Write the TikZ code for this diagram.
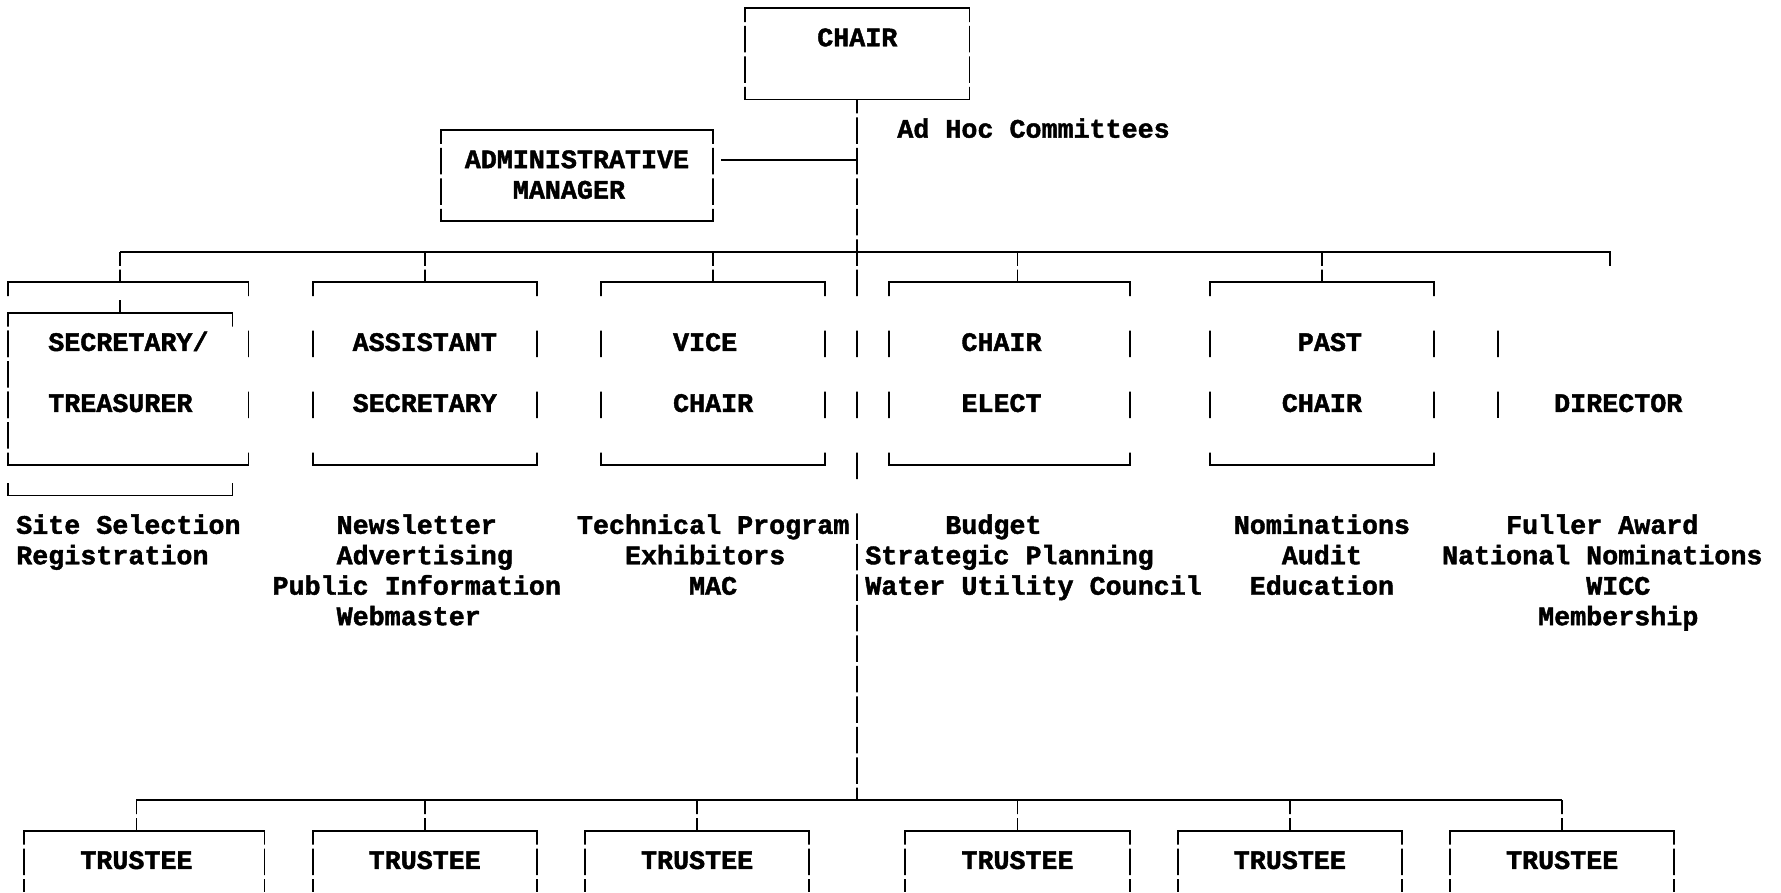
\documentclass[tikz,border=0pt]{standalone}
\usepackage{fontspec}
\setmainfont{Liberation Mono}[BoldFeatures={FakeBold=1.6}]
\newcommand\chartfont{\fontsize{26.7}{30.47}\selectfont\bfseries}
\newcommand\cx[1]{8.24+16.02*(#1)}
\newcommand\lx[1]{0.23+16.02*(#1)}
\newcommand\ry[1]{8+30.47*(#1)}
\newcommand\bandclip[1]{\clip \foreach \r in {#1} {(-20,{\ry{\r}-12.5}) rectangle (1820,{\ry{\r}+14})};}
\newcommand\boxnode[5]{\node[inner sep=0pt, outer sep=0pt, minimum width={16.02*((#3)-(#2))}, minimum height={30.47*((#5)-(#4))}] (#1) at ({\cx{((#2)+(#3))/2}},{\ry{((#4)+(#5))/2}}) {};}
\newcommand\lbltext[4]{\node[lbl] (#1) at ({\lx{#2}},{\ry{#3}+7.8}) {#4};}
\begin{document}
\begin{tikzpicture}[x=1pt,y=-1pt,line width=1.8pt,
  lbl/.style={anchor=base west,inner sep=0pt,outer sep=0pt,font=\chartfont},
  frame/.style={line width=1.8pt,black}]
\useasboundingbox[fill=white] (0,0) rectangle (1781,892);

% ---- box nodes (geometry) ----
\boxnode{chair}{46}{60}{0}{3}
\boxnode{admin}{27}{44}{4}{7}
\boxnode{secout}{0}{15}{9}{15}
\boxnode{secin}{0}{14}{10}{16}
\boxnode{asst}{19}{33}{9}{15}
\boxnode{vice}{37}{51}{9}{15}
\boxnode{elect}{55}{70}{9}{15}
\boxnode{past}{75}{89}{9}{15}
\boxnode{tr1}{1}{16}{27}{29}
\boxnode{tr2}{19}{33}{27}{29}
\boxnode{tr3}{36}{50}{27}{29}
\boxnode{tr4}{56}{70}{27}{29}
\boxnode{tr5}{73}{87}{27}{29}
\boxnode{tr6}{90}{104}{27}{29}

% ---- junction coordinates ----
\coordinate (j5) at ({\cx{53}},{\ry{5}});
\coordinate (a5) at ({\lx{45}},{\ry{5}});
\coordinate (b7) at ({\cx{7}},{\ry{8}});
\coordinate (b26) at ({\cx{26}},{\ry{8}});
\coordinate (b44) at ({\cx{44}},{\ry{8}});
\coordinate (b63) at ({\cx{63}},{\ry{8}});
\coordinate (b82) at ({\cx{82}},{\ry{8}});
\coordinate (b100) at ({\cx{100}},{\ry{8}});
\coordinate (tb8) at ({\cx{8}},{\ry{26}});
\coordinate (tb26) at ({\cx{26}},{\ry{26}});
\coordinate (tb43) at ({\cx{43}},{\ry{26}});
\coordinate (tb63) at ({\cx{63}},{\ry{26}});
\coordinate (tb80) at ({\cx{80}},{\ry{26}});
\coordinate (tb97) at ({\cx{97}},{\ry{26}});
\coordinate (trunkend) at ({\cx{53}},{\ry{26}});
\coordinate (dtop) at ({\cx{93}},{\ry{11}-14});
\coordinate (dbot) at ({\cx{93}},{\ry{13}+14});

% ---- lines shown in every row except 10,12,14,16 ----
\begin{scope}
\bandclip{0,1,2,3,4,5,6,7,8,9,11,13,15,17,18,19,20,21,22,23,24,25,26,27,28,29}
\draw[frame] (chair.north west) rectangle (chair.south east);
\draw[frame] (admin.north west) rectangle (admin.south east);
\draw[frame] (secout.north west) rectangle (secout.south east);
\draw[frame] (asst.north west) rectangle (asst.south east);
\draw[frame] (vice.north west) rectangle (vice.south east);
\draw[frame] (elect.north west) rectangle (elect.south east);
\draw[frame] (past.north west) rectangle (past.south east);
\draw[frame] (chair.south) -- (trunkend);
\draw[frame] (a5) -- (j5);
\draw[frame] (b7) -- (b100) -- ++(0,16);
\draw[frame] (b7) -- (b7 |- secout.north);
\draw[frame] (b26) -- (asst.north);
\draw[frame] (b44) -- (vice.north);
\draw[frame] (b63) -- (b63 |- elect.north);
\draw[frame] (b82) -- (past.north);
\draw[frame] (dtop) -- (dbot);
\draw[frame] (tb8) -- (tb97);
\draw[frame] (tb8) -- (tb8 |- tr1.north);
\draw[frame] (tb26) -- (tr2.north);
\draw[frame] (tb43) -- (tr3.north);
\draw[frame] (tb63) -- (tr4.north);
\draw[frame] (tb80) -- (tr5.north);
\draw[frame] (tb97) -- (tr6.north);
\foreach \t in {tr1,tr2,tr3,tr4,tr5,tr6}
  \draw[frame] (\t.south west) -- (\t.north west) -- (\t.north east) -- (\t.south east);
\end{scope}

% ---- inner secretary frame ----
\begin{scope}
\bandclip{10,11,12,13,14,16}
\draw[frame] (secin.north east) ++(0,15) -- (secin.north east) -- (secin.north west)
  -- (secin.south west) -- (secin.south east) -- ++(0,-14);
\draw[frame] (b7 |- secout.north) -- (b7 |- secin.north);
\end{scope}

% ---- texts ----
\lbltext{chairt}{51}{1}{CHAIR}
\lbltext{adhoc}{56}{4}{Ad Hoc Committees}
\lbltext{admt1}{29}{5}{ADMINISTRATIVE}
\lbltext{admt2}{32}{6}{MANAGER}
\lbltext{sect1}{3}{11}{SECRETARY/}
\lbltext{sect2}{3}{13}{TREASURER}
\lbltext{asst1}{22}{11}{ASSISTANT}
\lbltext{asst2}{22}{13}{SECRETARY}
\lbltext{vice1}{42}{11}{VICE}
\lbltext{vice2}{42}{13}{CHAIR}
\lbltext{elect1}{60}{11}{CHAIR}
\lbltext{elect2}{60}{13}{ELECT}
\lbltext{past1}{81}{11}{PAST}
\lbltext{past2}{80}{13}{CHAIR}
\lbltext{dirt}{97}{13}{DIRECTOR}

\lbltext{c1a}{1}{17}{Site Selection}
\lbltext{c1b}{1}{18}{Registration}
\lbltext{c2a}{21}{17}{Newsletter}
\lbltext{c2b}{21}{18}{Advertising}
\lbltext{c2c}{17}{19}{Public Information}
\lbltext{c2d}{21}{20}{Webmaster}
\lbltext{c3a}{36}{17}{Technical Program}
\lbltext{c3b}{39}{18}{Exhibitors}
\lbltext{c3c}{43}{19}{MAC}
\lbltext{c4a}{59}{17}{Budget}
\lbltext{c4b}{54}{18}{Strategic Planning}
\lbltext{c4c}{54}{19}{Water Utility Council}
\lbltext{c5a}{77}{17}{Nominations}
\lbltext{c5b}{80}{18}{Audit}
\lbltext{c5c}{78}{19}{Education}
\lbltext{c6a}{94}{17}{Fuller Award}
\lbltext{c6b}{90}{18}{National Nominations}
\lbltext{c6c}{99}{19}{WICC}
\lbltext{c6d}{96}{20}{Membership}

\lbltext{tt1}{5}{28}{TRUSTEE}
\lbltext{tt2}{23}{28}{TRUSTEE}
\lbltext{tt3}{40}{28}{TRUSTEE}
\lbltext{tt4}{60}{28}{TRUSTEE}
\lbltext{tt5}{77}{28}{TRUSTEE}
\lbltext{tt6}{94}{28}{TRUSTEE}
\end{tikzpicture}
\end{document}
